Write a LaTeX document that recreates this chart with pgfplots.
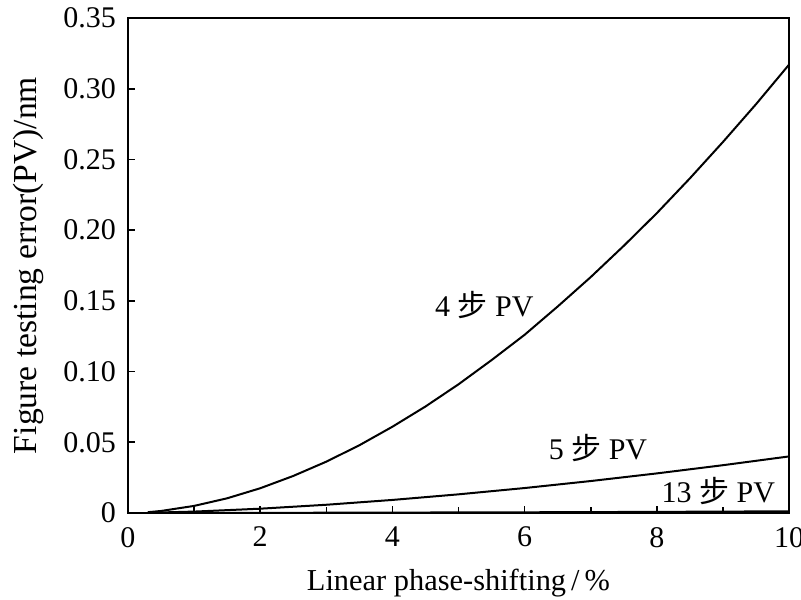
\documentclass[border=0pt]{standalone}
\usepackage{pgfplots}
\pgfplotsset{compat=1.18}
\usepackage{fontspec}
\setmainfont{Liberation Serif}
\newfontfamily\cjk{Noto Sans CJK SC}
\begin{document}
\fontsize{14.5}{17}\selectfont
\begin{tikzpicture}
\begin{axis}[
  scale only axis, width=330.5pt, height=247.5pt,
  xmin=0, xmax=10, ymin=0, ymax=0.35,
  axis line style={line width=0.9pt},
  xtick={0,2,4,6,8,10},
  minor x tick num=1,
  ytick={0,0.05,0.10,0.15,0.20,0.25,0.30,0.35},
  yticklabels={0,0.05,0.10,0.15,0.20,0.25,0.30,0.35},
  tick align=inside, xtick pos=bottom, ytick pos=left,
  major tick length=3.5pt, minor tick length=3pt,
  tick style={line width=0.8pt, black},
  /pgf/number format/assume math mode=true,
  tick label style={font=\fontsize{15}{17}\selectfont},
  xticklabel style={yshift=-2pt},
  yticklabel style={xshift=-1pt},
  xlabel={Linear phase-shifting\,/\,\%},
  ylabel={Figure testing error(PV)/nm},
  xlabel style={font=\fontsize{15.2}{17}\selectfont, yshift=-1pt},
  ylabel style={font=\fontsize{16.8}{19}\selectfont, yshift=0pt},
  clip=false,
]
\addplot[black, line width=1pt] coordinates {
(0.3,0.00057)(0.5,0.00144)(1,0.00502)(1.5,0.0104)(2,0.0175)(2.5,0.0262)(3,0.0363)(3.5,0.0479)(4,0.061)(4.5,0.0753)(5,0.0910)(5.5,0.1081)(6,0.126)(6.5,0.146)(7,0.1668)(7.5,0.1889)(8,0.212)(8.5,0.2366)(9,0.2623)(9.5,0.289)(10,0.317)};
\addplot[black, line width=1pt] coordinates {
(0.3,0.00015)(1,0.001)(2,0.00305)(3,0.00583)(4,0.00924)(5,0.0132)(6,0.01765)(7,0.0226)(8,0.028)(9,0.0338)(10,0.040)};
\addplot[black, line width=1pt] coordinates {
(0.3,0.00001)(2,0.0001)(4,0.0003)(6,0.0005)(8,0.0008)(10,0.0012)};
\node[font=\fontsize{15}{17}\selectfont] at (axis cs:5.39,0.147) {4 {\cjk 步} PV};
\node[font=\fontsize{15}{17}\selectfont] at (axis cs:7.11,0.046) {5 {\cjk 步} PV};
\node[font=\fontsize{15}{17}\selectfont] at (axis cs:8.93,0.0156) {13 {\cjk 步} PV};
\coordinate (ll) at (rel axis cs:0,0);
\coordinate (ur) at (rel axis cs:1,1);
\end{axis}
\pgfresetboundingbox
\path ([xshift=-64pt,yshift=-43pt]ll) rectangle ([xshift=6pt,yshift=9pt]ur);
\end{tikzpicture}
\end{document}
